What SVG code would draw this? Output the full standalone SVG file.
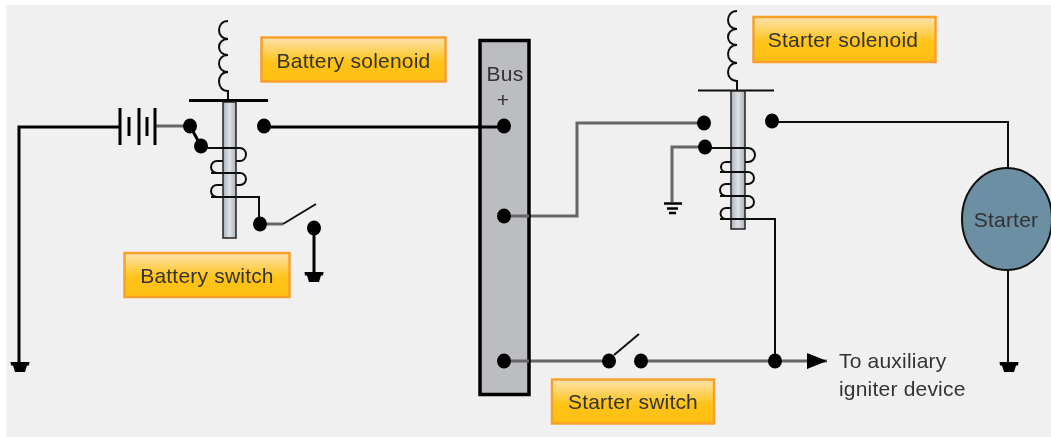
<svg xmlns="http://www.w3.org/2000/svg" width="1051" height="437" viewBox="0 0 1051 437">
<defs>
<linearGradient id="lbl" x1="0" y1="0" x2="0" y2="1"><stop offset="0" stop-color="#fbe3b0"/><stop offset="0.55" stop-color="#ffc41a"/><stop offset="1" stop-color="#ffbe10"/></linearGradient>
<linearGradient id="plg" x1="0" y1="0" x2="1" y2="0"><stop offset="0" stop-color="#aab2ba"/><stop offset="0.5" stop-color="#dfe3e6"/><stop offset="1" stop-color="#aab2ba"/></linearGradient>
<marker id="arrow" markerUnits="userSpaceOnUse" markerWidth="22" markerHeight="16" refX="20" refY="8" orient="auto"><path d="M0 0L20 8L0 16Z" fill="#000"/></marker>
<symbol id="gnd" overflow="visible"><path d="M-9.500 0H9.500L9 3.500H7L5 10H-5L-7 3.500H-9Z" fill="#000"/></symbol>
<filter id="soft" x="0" y="0" width="100%" height="100%"><feGaussianBlur stdDeviation="0.55"/></filter>
</defs>
<style>
text{font-family:"Liberation Sans",Arial,sans-serif;font-size:21px;letter-spacing:0.2px;fill:#333}
.lb{fill:url(#lbl);stroke:#f9a02c;stroke-width:2.500}
.pl{fill:url(#plg);stroke:#222;stroke-width:1.500}
.k{fill:none;stroke:#000;stroke-width:3}
.t{fill:none;stroke:#111;stroke-width:2}
.g{fill:none;stroke:#666;stroke-width:3}
.d{fill:#000}
</style>
<rect width="1051" height="437" fill="#fff"/>
<g filter="url(#soft)">
<rect x="6" y="5" width="1045" height="432" fill="#f0f0f0"/>

<g id="connectors">
<path class="k" d="M120 127H19V362"/>
<path class="g" d="M155 126H190"/>
<path class="k" d="M190 126L201 146"/>
<path class="k" d="M264 127H504"/>
<path class="t" d="M201 148H240A6 6.500 0 0 1 240 161H217A6 6 0 0 0 217 173H240A6 6 0 0 1 240 185H217A6 6 0 0 0 217 197H259V224"/>
<path class="g" d="M260 224H283"/>
<path class="t" d="M283 224L316 204"/>
<path class="k" d="M314 228V272"/>
<path class="g" d="M504 216H577V123H704"/>
<path class="g" d="M705 147H672V202"/>
<path class="t" d="M705 148H748A7 7 0 0 1 748 162H726A5 5 0 0 0 726 172H748A6 6 0 0 1 748 184H726A6 6 0 0 0 726 196H748A6 6 0 0 1 748 208H726A5.500 5.500 0 0 0 726 219H775V361"/>
<path class="t" d="M772 122H1008V168"/>
<path class="t" d="M1008 270V362"/>
<path class="g" d="M504 361H609"/>
<path class="t" d="M614 355L639 334"/>
<path class="g" d="M641 361H827" marker-end="url(#arrow)"/>
<path class="t" d="M228 21C216 21 216 39 228 39C216 39 216 55 228 55C216 55 216 72 228 72C216 72 216 91 228 91V100"/>
<path class="t" d="M737 11C725 11 725 29 737 29C725 29 725 45 737 45C725 45 725 63 737 63C725 63 725 81 737 81V90"/>
</g>

<g id="battery">
<path class="k" d="M120 108V145M139 108V145M155 108V145"/>
<path class="k" d="M129 117V136M147 117V136"/>
</g>

<g id="battery-relay">
<path class="k" d="M189 100.500H268"/>
<rect class="pl" x="223" y="102" width="13" height="136"/>
<path class="t" d="M201 148H236M211 173H236M211 197H236"/>
<ellipse class="d" cx="190" cy="126" rx="7" ry="7.500"/><ellipse class="d" cx="201" cy="146" rx="7" ry="7.500"/><ellipse class="d" cx="264" cy="126" rx="7" ry="7.500"/>
<ellipse class="d" cx="260" cy="224" rx="7" ry="7.500"/><ellipse class="d" cx="314" cy="228" rx="7" ry="7.500"/>
<use href="#gnd" x="314" y="272"/>
</g>
<use id="ground-left" href="#gnd" x="20" y="362"/>

<g id="bus">
<rect x="480" y="40.500" width="49" height="354" fill="#bcbdc0" stroke="#000" stroke-width="3.500"/>
<text x="505" y="81" text-anchor="middle">Bus</text>
<text x="503" y="107" text-anchor="middle">+</text>
<path class="k" d="M480 127H504"/>
<path class="g" d="M504 216H529M504 361H529"/>
<ellipse class="d" cx="504" cy="126" rx="7" ry="7.500"/><ellipse class="d" cx="504" cy="216" rx="7" ry="7.500"/><ellipse class="d" cx="504" cy="361" rx="7" ry="7.500"/>
</g>

<g id="starter-relay">
<path class="t" d="M698 90.500H774"/>
<rect class="pl" x="731" y="91" width="14" height="138"/>
<path class="t" d="M705 148H745M720 172H745M720 196H745M720 219H745"/>
<ellipse class="d" cx="704" cy="123" rx="7" ry="7.500"/><ellipse class="d" cx="705" cy="147" rx="7" ry="7.500"/><ellipse class="d" cx="772" cy="121" rx="7" ry="7.500"/>
<path d="M664 203.500H682M667 208.500H678M669 213H676" fill="none" stroke="#000" stroke-width="2.500"/>
</g>

<g id="starter-switch">
<ellipse class="d" cx="609" cy="361" rx="7" ry="7.500"/><ellipse class="d" cx="641" cy="361" rx="7" ry="7.500"/><ellipse class="d" cx="775" cy="361" rx="7" ry="7.500"/>
</g>

<g id="starter">
<ellipse cx="1007" cy="219" rx="45" ry="51" fill="#6c8fa4" stroke="#111" stroke-width="2"/>
<text x="1006" y="227" text-anchor="middle">Starter</text>
<use href="#gnd" x="1009" y="362"/>
</g>

<g id="battery-solenoid"><rect class="lb" x="261.500" y="37.500" width="184" height="44"/><text x="353.500" y="68" text-anchor="middle">Battery solenoid</text></g>
<g id="battery-switch"><rect class="lb" x="124.500" y="253" width="165" height="44"/><text x="207" y="283" text-anchor="middle">Battery switch</text></g>
<g id="starter-solenoid"><rect class="lb" x="753.500" y="17" width="182" height="45"/><text x="843" y="47" text-anchor="middle">Starter solenoid</text></g>
<g id="starter-switch-label"><rect class="lb" x="552" y="379.500" width="162" height="44"/><text x="633" y="409" text-anchor="middle">Starter switch</text></g>
<g id="aux-label"><text x="839" y="368">To auxiliary</text><text x="839" y="396">igniter device</text></g>
</g>
</svg>
